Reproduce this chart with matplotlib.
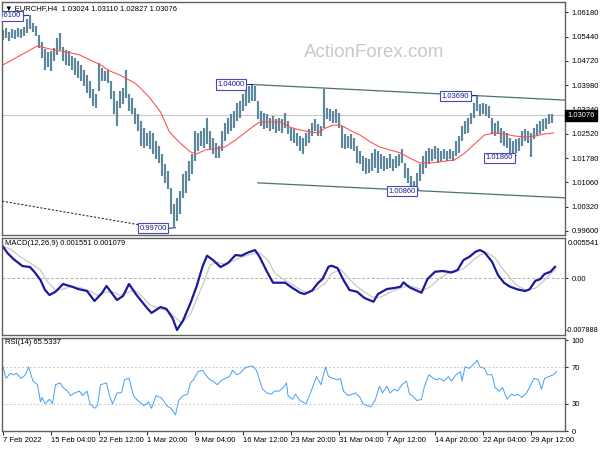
import numpy as np
import matplotlib
matplotlib.use('Agg')
import matplotlib.pyplot as plt
import matplotlib.transforms as mtransforms

plt.rcParams['font.family'] = ['Liberation Sans', 'DejaVu Sans']
plt.rcParams['font.size'] = 5.5

# EURCHF H4, one bar drawn per two H4 candles (high / low)
highs = [
    1.0564, 1.0570, 1.0558, 1.0567, 1.0564, 1.0570, 1.0567, 1.0573, 1.0597, 1.0610,
    1.0585, 1.0576, 1.0549, 1.0528, 1.0507, 1.0498, 1.0500, 1.0510, 1.0540, 1.0555,
    1.0513, 1.0504, 1.0500, 1.0485, 1.0480, 1.0470, 1.0460, 1.0445, 1.0430, 1.0410,
    1.0385, 1.0370, 1.0465, 1.0450, 1.0440, 1.0445, 1.0410, 1.0380, 1.0350, 1.0380,
    1.0390, 1.0443, 1.0370, 1.0360, 1.0330, 1.0310, 1.0290, 1.0270, 1.0255, 1.0260,
    1.0255, 1.0230, 1.0215, 1.0190, 1.0160, 1.0140, 1.0090, 1.0040, 1.0060, 1.0080,
    1.0130, 1.0140, 1.0170, 1.0190, 1.0260, 1.0255, 1.0260, 1.0270, 1.0300, 1.0260,
    1.0240, 1.0225, 1.0215, 1.0260, 1.0285, 1.0300, 1.0310, 1.0320, 1.0345, 1.0350,
    1.0370, 1.0385, 1.0395, 1.0400, 1.0395, 1.0350, 1.0320, 1.0315, 1.0310, 1.0300,
    1.0305, 1.0295, 1.0300, 1.0295, 1.0315, 1.0290, 1.0270, 1.0265, 1.0255, 1.0245,
    1.0240, 1.0255, 1.0265, 1.0285, 1.0295, 1.0280, 1.0275, 1.0385, 1.0330, 1.0325,
    1.0320, 1.0325, 1.0315, 1.0275, 1.0250, 1.0245, 1.0250, 1.0240, 1.0215, 1.0200,
    1.0185, 1.0180, 1.0175, 1.0195, 1.0205, 1.0200, 1.0190, 1.0185, 1.0180, 1.0190,
    1.0175, 1.0185, 1.0190, 1.0205, 1.0165, 1.0150, 1.0125, 1.0110, 1.0135, 1.0160,
    1.0185, 1.0200, 1.0210, 1.0205, 1.0215, 1.0210, 1.0200, 1.0205, 1.0200, 1.0205,
    1.0200, 1.0230, 1.0245, 1.0275, 1.0290, 1.0300, 1.0315, 1.0345, 1.0369, 1.0340,
    1.0345, 1.0340, 1.0335, 1.0300, 1.0285, 1.0290, 1.0270, 1.0260, 1.0255, 1.0240,
    1.0230, 1.0235, 1.0240, 1.0260, 1.0265, 1.0260, 1.0255, 1.0270, 1.0280, 1.0290,
    1.0295, 1.0300, 1.0311, 1.0311,
]
lows = [
    1.0534, 1.0540, 1.0531, 1.0540, 1.0537, 1.0543, 1.0540, 1.0546, 1.0555, 1.0567,
    1.0558, 1.0546, 1.0510, 1.0480, 1.0443, 1.0452, 1.0440, 1.0470, 1.0490, 1.0505,
    1.0470, 1.0460, 1.0455, 1.0445, 1.0430, 1.0420, 1.0410, 1.0395, 1.0375, 1.0360,
    1.0335, 1.0330, 1.0380, 1.0410, 1.0410, 1.0405, 1.0355, 1.0310, 1.0275, 1.0330,
    1.0340, 1.0360, 1.0320, 1.0310, 1.0280, 1.0260, 1.0215, 1.0210, 1.0215, 1.0205,
    1.0190, 1.0175, 1.0165, 1.0125, 1.0105, 1.0085, 1.0010, 0.9970, 0.9990, 1.0010,
    1.0060, 1.0075, 1.0110, 1.0130, 1.0170, 1.0200, 1.0215, 1.0210, 1.0220, 1.0205,
    1.0190, 1.0180, 1.0180, 1.0200, 1.0230, 1.0250, 1.0260, 1.0270, 1.0290, 1.0300,
    1.0320, 1.0335, 1.0345, 1.0350, 1.0350, 1.0295, 1.0275, 1.0265, 1.0270, 1.0260,
    1.0265, 1.0255, 1.0260, 1.0255, 1.0270, 1.0250, 1.0230, 1.0225, 1.0215, 1.0200,
    1.0190, 1.0215, 1.0225, 1.0245, 1.0260, 1.0245, 1.0245, 1.0270, 1.0295, 1.0290,
    1.0285, 1.0285, 1.0270, 1.0210, 1.0205, 1.0210, 1.0205, 1.0200, 1.0165, 1.0160,
    1.0140, 1.0130, 1.0135, 1.0140, 1.0150, 1.0135, 1.0145, 1.0140, 1.0145, 1.0150,
    1.0140, 1.0150, 1.0155, 1.0165, 1.0120, 1.0105, 1.0090, 1.0086, 1.0095, 1.0110,
    1.0130, 1.0150, 1.0160, 1.0170, 1.0175, 1.0165, 1.0170, 1.0175, 1.0170, 1.0175,
    1.0170, 1.0185, 1.0195, 1.0230, 1.0250, 1.0255, 1.0280, 1.0300, 1.0320, 1.0305,
    1.0310, 1.0305, 1.0300, 1.0250, 1.0245, 1.0250, 1.0225, 1.0215, 1.0210, 1.0195,
    1.0186, 1.0195, 1.0200, 1.0215, 1.0230, 1.0225, 1.0182, 1.0235, 1.0245, 1.0250,
    1.0260, 1.0265, 1.0280, 1.0283,
]
last_price = 1.03076

# moving average (bar index, value)
ma_idx = [0, 23, 31, 38, 45, 51, 58, 65, 71, 78, 83, 88, 91, 98, 105, 108, 111, 118,
          125, 129, 135, 141, 148, 155, 161, 168, 171, 178, 185, 191, 198, 205, 210,
          215, 220, 225, 231, 238, 245, 251, 258, 265, 271, 278, 285, 291, 301, 308,
          315, 321, 328, 335, 341, 348, 355, 361, 367]
ma_val = [1.0459, 1.0516, 1.0507, 1.0501, 1.0495, 1.0489, 1.0474, 1.0459, 1.0441,
          1.0428, 1.0416, 1.0404, 1.0392, 1.0359, 1.0317, 1.0287, 1.0257, 1.0224,
          1.0197, 1.0191, 1.0203, 1.0206, 1.0212, 1.0233, 1.0254, 1.0278, 1.0287,
          1.0287, 1.0287, 1.0272, 1.0263, 1.0257, 1.0254, 1.0269, 1.0278, 1.0278,
          1.0263, 1.0248, 1.0227, 1.0212, 1.0203, 1.0194, 1.0179, 1.0164, 1.0164,
          1.0167, 1.0173, 1.0194, 1.0224, 1.0248, 1.0254, 1.0251, 1.0245, 1.0242,
          1.0245, 1.0251, 1.0254]

# MACD(12,26,9) main line
macd_idx = [0, 3, 7, 13, 18, 21, 25, 28, 31, 35, 40, 46, 50, 56, 61, 66, 69, 76, 80,
            84, 89, 96, 99, 105, 109, 113, 116, 120, 125, 129, 133, 136, 140, 145,
            150, 155, 159, 163, 168, 171, 176, 180, 188, 193, 198, 201, 206, 210, 213,
            217, 219, 223, 227, 231, 236, 241, 247, 250, 256, 261, 265, 267, 271, 275,
            279, 283, 288, 293, 299, 303, 307, 311, 315, 318, 321, 326, 330, 334, 338,
            343, 348, 351, 355, 358, 361, 365, 368]
macd_val = [0.00433, 0.00346, 0.00262, 0.00166, 0.00152, 0.00083, -0.00028, -0.00166,
            -0.00235, -0.00190, -0.00083, -0.00120, -0.00152, -0.00180, -0.00318,
            -0.00208, -0.00110, -0.00304, -0.00249, -0.00083, -0.00235, -0.00415,
            -0.00484, -0.00401, -0.00429, -0.00554, -0.00720, -0.00590, -0.00346,
            -0.00120, 0.00157, 0.00309, 0.00249, 0.00152, 0.00208, 0.00318, 0.00309,
            0.00350, 0.00387, 0.00295, 0.00087, -0.00065, -0.00065, -0.00138, -0.00203,
            -0.00221, -0.00175, -0.00069, -0.00014, 0.00157, 0.00170, 0.00138, -0.00028,
            -0.00166, -0.00190, -0.00277, -0.00328, -0.00221, -0.00152, -0.00138,
            -0.00120, -0.00060, -0.00129, -0.00166, -0.00203, -0.00014, 0.00087,
            0.00097, 0.00078, 0.00110, 0.00249, 0.00295, 0.00364, 0.00387, 0.00355,
            0.00226, 0.00041, -0.00065, -0.00120, -0.00157, -0.00180, -0.00157,
            -0.00037, -0.00018, 0.00055, 0.00087, 0.00155]

# MACD signal line
sig_idx = [0, 5, 11, 18, 25, 30, 35, 39, 45, 51, 58, 63, 68, 73, 78, 83, 88, 93, 98,
           105, 110, 115, 119, 125, 129, 134, 138, 143, 148, 153, 159, 166, 171, 177,
           181, 187, 193, 198, 203, 209, 215, 219, 225, 229, 235, 240, 246, 251, 258,
           265, 270, 275, 280, 285, 290, 296, 301, 307, 313, 318, 323, 328, 333, 338,
           343, 349, 355, 360, 365, 368]
sig_val = [0.0044, 0.0040, 0.0030, 0.0021, 0.0011, -0.0006, -0.0017, -0.0016, -0.0012,
           -0.0013, -0.0018, -0.0024, -0.0020, -0.0019, -0.0024, -0.0020, -0.0017,
           -0.0026, -0.0037, -0.0043, -0.0045, -0.0055, -0.0062, -0.0050, -0.0030,
           -0.0005, 0.0018, 0.0022, 0.0019, 0.0023, 0.0029, 0.0033, 0.0035, 0.0024,
           0.0007, -0.0002, -0.0009, -0.0016, -0.0020, -0.0016, -0.0007, 0.0006,
           0.0012, 0.0003, -0.0010, -0.0018, -0.0026, -0.0027, -0.0020, -0.0014,
           -0.0010, -0.0013, -0.0017, -0.0012, -0.0002, 0.0006, 0.0008, 0.0013,
           0.0024, 0.0032, 0.0035, 0.0028, 0.0013, 0.0000, -0.0011, -0.0017, -0.0014,
           -0.0005, 0.0006, 0.0011]

# RSI(14)
rsi_idx = [0, 2, 5, 7, 9, 12, 15, 17, 20, 23, 25, 26, 28, 31, 33, 35, 38, 40, 43, 45,
           48, 51, 53, 56, 58, 61, 63, 65, 69, 71, 73, 76, 79, 81, 84, 87, 89, 91, 94,
           97, 99, 102, 105, 107, 109, 112, 115, 117, 120, 123, 125, 127, 130, 133, 135,
           138, 140, 143, 145, 148, 151, 153, 156, 158, 161, 163, 166, 169, 171, 173,
           176, 179, 181, 184, 187, 189, 190, 193, 195, 198, 202, 205, 207, 209, 212,
           215, 217, 220, 223, 225, 227, 230, 233, 235, 238, 240, 243, 245, 248, 251,
           253, 256, 258, 261, 263, 266, 269, 271, 273, 276, 279, 281, 284, 287, 289,
           291, 294, 297, 299, 302, 305, 306, 308, 311, 313, 316, 318, 321, 323, 326,
           328, 331, 333, 336, 339, 341, 343, 346, 349, 351, 354, 357, 359, 361, 364,
           367, 369]
rsi_val = [70.7, 58, 63.6, 62, 63.6, 58, 62, 70.7, 55, 51, 32, 37, 30, 35, 30, 51, 53,
           48, 44, 39, 42, 44, 39, 44, 30, 25, 28, 51, 53, 39, 30, 42, 42, 56.5, 58, 39,
           35, 32, 28, 32, 25, 39, 37, 33.5, 28, 25, 17.6, 33.5, 39, 40.6, 53, 56.5,
           65.4, 67, 62, 56.5, 55, 51, 55, 58, 60, 67, 62, 63.6, 69, 70.7, 71.8, 67,
           56.5, 46, 42, 40.6, 44, 44, 48, 53, 39, 35, 40.6, 33.5, 30, 42, 51, 60, 51,
           70.7, 60, 58, 56.5, 58, 44, 39, 40.6, 42, 37, 30, 28, 26.5, 33.5, 49.5, 42,
           49.5, 42, 46, 44, 51, 55, 40.6, 39, 33.5, 35, 49.5, 62, 58, 56.5, 58, 55, 60,
           55, 62, 65.4, 55, 70.7, 69, 72.5, 77.8, 70.7, 69, 62, 62, 48, 44, 48, 35,
           40.6, 39, 40.6, 37, 42, 48, 58, 56.5, 46, 58, 60, 62, 65.5]

price_ticks = [1.0618, 1.0544, 1.0472, 1.0398, 1.0324, 1.0252, 1.0178, 1.0106, 1.0032, 0.9960]
time_ticks = [0, 32, 64, 96, 128, 160, 192, 224, 256, 288, 320, 352]
time_labels = ['7 Feb 2022', '15 Feb 04:00', '22 Feb 12:00', '1 Mar 20:00', '9 Mar 04:00',
               '16 Mar 12:00', '23 Mar 20:00', '31 Mar 04:00', '7 Apr 12:00',
               '14 Apr 20:00', '22 Apr 04:00', '29 Apr 12:00']

W, H = 600, 450
fig = plt.figure(figsize=(6, 4.5), dpi=100)


def px_axes(left, top, right, bottom):
    return fig.add_axes([left / W, 1 - bottom / H, (right - left) / W, (bottom - top) / H])


ax = px_axes(2, 2, 565, 235)
ax_macd = px_axes(2, 238, 565, 335)
ax_rsi = px_axes(2, 338, 565, 431)

frame_col = '#606060'
for a in (ax, ax_macd, ax_rsi):
    a.set_xlim(-0.67, 374.67)
    for s in a.spines.values():
        s.set_color(frame_col)
        s.set_linewidth(1.0)
    a.yaxis.tick_right()
    a.tick_params(axis='y', length=2.5, width=0.6, pad=2, labelsize=5.5, colors='black')
    a.tick_params(axis='x', length=0, labelbottom=False)
    a.set_xticks([])

# ---- price panel ----
bar_idx = np.arange(0, 2 * len(highs), 2)
ax.set_ylim(0.99472, 1.06481)
ax.axhline(last_price, color='#c8c8c8', lw=0.8, zorder=1)
ax.vlines(bar_idx, lows, highs, color='#5f879b', lw=1.55, zorder=2)
ax.plot(ma_idx, ma_val, color='#ff4a4a', lw=0.75, zorder=3)

# channel and trend lines
ax.plot([166, 374.67], [1.0400, 1.0353], color='#4f6f78', lw=0.9, zorder=3)
ax.plot([170, 374.67], [1.0104, 1.0059], color='#4f6f78', lw=0.9, zorder=3)
ax.plot([-0.67, 92], [1.0049, 0.9977], color='#333333', lw=0.8, ls=(0, (2, 1.5)), zorder=3)

ax.set_yticks(price_ticks)
ax.set_yticklabels([f'{p:.5f}' for p in price_ticks])

trans = mtransforms.blended_transform_factory(ax.transAxes, ax.transData)
ax.text(1.004, last_price, f'{last_price:.5f}', transform=trans, color='white',
        va='center', ha='left', fontsize=5.5, clip_on=False,
        bbox=dict(boxstyle='square,pad=0.25', fc='black', ec='black'))

ax.text(0.006, 0.988, '\u25bc EURCHF,H4  1.03024 1.03110 1.02827 1.03076',
        transform=ax.transAxes, va='top', ha='left', fontsize=5.5)
ax.text(0.661, 0.785, 'ActionForex.com', transform=ax.transAxes, ha='center',
        va='center', fontsize=13.5, color='#c8c8c8', zorder=0)

lab_kw = dict(color='#1a1a8a', fontsize=5.5, va='center', ha='right', zorder=5,
              bbox=dict(boxstyle='square,pad=0.2', fc='white', ec='#4848b8', lw=0.8))
labels = [
    ('1.06100', 12.0, 1.0606, 17, 1.0608),
    ('1.04000', 161.3, 1.0400, 166, 1.0400),
    ('0.99700', 109.3, 0.9967, 115, 0.9969),
    ('1.00860', 275.3, 1.0079, 277, 1.0086),
    ('1.03690', 310.7, 1.0365, 315.3, 1.0367),
    ('1.01860', 340, 1.0180, 342, 1.0186),
]
for txt, tx, ty, cx, cy in labels:
    ax.plot([tx, cx], [ty, cy], color='#1a1a8a', lw=0.7, zorder=4)
    ax.text(tx, ty, txt, clip_on=True, **lab_kw)

# ---- MACD panel ----
ax_macd.set_ylim(-0.007888, 0.005541)
ax_macd.axhline(0, color='#b0b0b0', lw=0.7, ls=(0, (3, 2)))
ax_macd.plot(sig_idx, sig_val, color='#c8c8c8', lw=0.9)
ax_macd.plot(macd_idx, macd_val, color='#1a1a9a', lw=1.6)
ax_macd.set_yticks([0])
ax_macd.set_yticklabels(['0.00'])
ax_macd.text(1.004, 0.94, '0.005541', transform=ax_macd.transAxes, va='center',
             ha='left', fontsize=5.5)
ax_macd.text(1.002, 0.05, '-0.007888', transform=ax_macd.transAxes, va='center',
             ha='left', fontsize=5.2)
ax_macd.text(0.006, 0.975, 'MACD(12,26,9) 0.001551 0.001079',
             transform=ax_macd.transAxes, va='top', ha='left', fontsize=5.5)

# ---- RSI panel ----
ax_rsi.set_ylim(0, 102.5)
for lvl in (30, 70):
    ax_rsi.axhline(lvl, color='#c8c8c8', lw=0.7, ls=(0, (2, 2)))
ax_rsi.plot(rsi_idx, rsi_val, color='#44a0f5', lw=0.7)
ax_rsi.set_yticks([0, 30, 70, 100])
ax_rsi.set_yticklabels(['0', '30', '70', '100'])
ax_rsi.text(0.006, 0.985, 'RSI(14) 65.5337', transform=ax_rsi.transAxes,
            va='top', ha='left', fontsize=5.5)

ax_rsi.set_xticks(time_ticks)
ax_rsi.set_xticklabels(time_labels)
ax_rsi.tick_params(axis='x', length=3, width=0.6, pad=1.5, labelbottom=True,
                   labelsize=5.5)
for t in ax_rsi.get_xticklabels():
    t.set_ha('left')

fig.savefig('out.png', dpi=100)
